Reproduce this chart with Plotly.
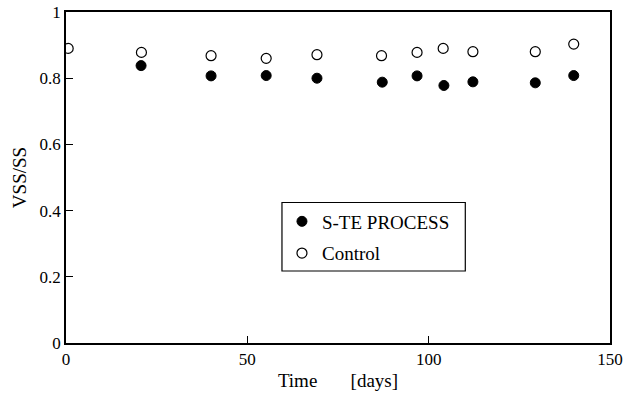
import plotly.graph_objects as go

time_ste = [20.7, 40.0, 55.2, 69.2, 87.2, 96.8, 104.2, 112.2, 129.4, 140.0]
vss_ste = [0.838, 0.807, 0.808, 0.800, 0.788, 0.807, 0.778, 0.789, 0.786, 0.808]

time_ctrl = [0.6, 20.8, 40.0, 55.2, 69.2, 87.0, 96.8, 104.0, 112.2, 129.4, 140.0]
vss_ctrl = [0.890, 0.878, 0.868, 0.860, 0.871, 0.868, 0.878, 0.890, 0.880, 0.880, 0.903]

x_ticks = [0, 50, 100, 150]
y_ticks = [0, 0.2, 0.4, 0.6, 0.8, 1]
y_labels = ["0", "0.2", "0.4", "0.6", "0.8", "1"]

FONT = "'Liberation Serif', 'Times New Roman', 'DejaVu Serif', serif"

fig = go.Figure()
fig.add_trace(go.Scatter(
    x=time_ste, y=vss_ste, mode="markers", name="S-TE PROCESS", legendgroup="a",
    marker=dict(symbol="circle", size=10, color="black", line=dict(color="black", width=1)),
))
fig.add_trace(go.Scatter(
    x=time_ctrl, y=vss_ctrl, mode="markers", name="Control", legendgroup="b",
    marker=dict(symbol="circle-open", size=10, color="black", line=dict(color="black", width=1.2)),
))

# legend frame
fig.add_shape(type="rect", xref="paper", yref="paper",
              x0=0.397, x1=0.734, y0=0.2175, y1=0.4245,
              line=dict(color="black", width=1.2), fillcolor="white", layer="below")

fig.update_layout(
    width=632, height=399,
    margin=dict(l=66, r=22, t=12, b=56, autoexpand=False),
    paper_bgcolor="white", plot_bgcolor="white",
    font=dict(family=FONT, size=17, color="black"),
    showlegend=True,
    legend=dict(
        x=0.397, y=0.4245, xanchor="left", yanchor="top",
        bgcolor="rgba(0,0,0,0)", borderwidth=0,
        font=dict(family=FONT, size=19, color="black"),
        itemsizing="trace", traceorder="grouped", tracegroupgap=4,
    ),
    xaxis=dict(
        range=[0, 150], tickvals=x_ticks, ticktext=[str(v) for v in x_ticks],
        ticks="inside", ticklen=7, tickwidth=1.2, tickcolor="black",
        showline=True, linecolor="black", linewidth=1.5, mirror=True,
        showgrid=False, zeroline=False, automargin=False,
        tickfont=dict(family=FONT, size=17),
        title=dict(text="Time" + "\u00a0" * 7 + "[days]", font=dict(family=FONT, size=19), standoff=6),
    ),
    yaxis=dict(
        range=[0, 1], tickvals=y_ticks, ticktext=y_labels,
        ticks="inside", ticklen=7, tickwidth=1.2, tickcolor="black",
        showline=True, linecolor="black", linewidth=1.5, mirror=True,
        showgrid=False, zeroline=False, automargin=False,
        tickfont=dict(family=FONT, size=17),
        title=dict(text="VSS/SS", font=dict(family=FONT, size=19), standoff=8),
    ),
)

fig.write_html("out.html")
